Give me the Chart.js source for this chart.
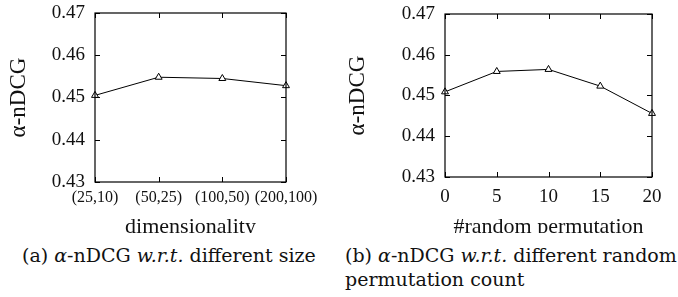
<!DOCTYPE html>
<html>
<head>
<meta charset="utf-8">
<script src="https://cdn.jsdelivr.net/npm/chart.js@4/dist/chart.umd.min.js"></script>
<style>
  html, body { margin: 0; padding: 0; background: #fff; }
  body { width: 678px; height: 297px; position: relative; overflow: hidden; }
  .panel { position: absolute; top: 0; height: 240px; }
  .cap {
    position: absolute; top: 233px; padding-top: 10px; background: #fff;
    font-family: "DejaVu Serif", serif; font-size: 19px;
    color: #111; white-space: nowrap; line-height: 24px;
  }
  .cap i { font-style: italic; }
</style>
</head>
<body>
<div class="panel" style="left:0;width:340px"><canvas id="chartDim"></canvas></div>
<div class="panel" style="left:340px;width:338px"><canvas id="chartPerm"></canvas></div>
<div class="cap" style="left:22px;width:318px">(a) <i>α</i>-nDCG <i>w.r.t.</i> different size</div>
<div class="cap" style="left:345px;width:333px">(b) <i>α</i>-nDCG <i>w.r.t.</i> different random<br>permutation count</div>

<script>
// ---------------------------------------------------------------------------
//  Data
// ---------------------------------------------------------------------------

const dimLabels  = ['(25,10)', '(50,25)', '(100,50)', '(200,100)'];
const dimValues  = [0.4505, 0.4548, 0.4545, 0.4528];

const permCounts = [0, 5, 10, 15, 20];
const permValues = [0.4509, 0.4559, 0.4564, 0.4523, 0.4456];

const yTicks = [0.43, 0.44, 0.45, 0.46, 0.47];

const SERIF = '"Liberation Serif", "Times New Roman", serif';

// frame + inward mirrored tick marks, gnuplot style
const framePlugin = {
  id: 'frame',
  afterDraw(chart) {
    const { ctx, chartArea: a, scales } = chart;
    ctx.save();
    ctx.strokeStyle = '#000';
    ctx.lineWidth = 1.2;
    ctx.strokeRect(a.left, a.top, a.right - a.left, a.bottom - a.top);
    ctx.lineWidth = 1;
    const len = 5;
    scales.y.ticks.forEach((t, i) => {
      const y = Math.round(scales.y.getPixelForTick(i)) + 0.5;
      ctx.beginPath();
      ctx.moveTo(a.left, y);  ctx.lineTo(a.left + len, y);
      ctx.moveTo(a.right, y); ctx.lineTo(a.right - len, y);
      ctx.stroke();
    });
    scales.x.ticks.forEach((t, i) => {
      const x = Math.round(scales.x.getPixelForTick(i)) + 0.5;
      ctx.beginPath();
      ctx.moveTo(x, a.bottom); ctx.lineTo(x, a.bottom - len);
      ctx.moveTo(x, a.top);    ctx.lineTo(x, a.top + len);
      ctx.stroke();
    });
    ctx.restore();
  },
};

function lineDataset(values) {
  return {
    data: values,
    borderColor: '#000', borderWidth: 1,
    pointStyle: 'triangle', pointRadius: 4, pointHoverRadius: 4,
    pointBackgroundColor: '#fff', pointBorderColor: '#000', pointBorderWidth: 1,
    tension: 0, clip: false,
  };
}

function yScale(axisWidth, titleOffset) {
  return {
    min: 0.43, max: 0.47,
    afterBuildTicks: s => { s.ticks = yTicks.map(v => ({ value: v })); },
    afterFit: s => { s.width = axisWidth; s.paddingTop = 0; s.paddingBottom = 0; },
    grid: { display: false, drawTicks: false },
    border: { display: false },
    ticks: { color: '#111', font: { family: SERIF, size: 19 }, padding: 10,
             callback: v => v.toFixed(2) },
    title: { display: true, text: 'α-nDCG', color: '#111',
             font: { family: SERIF, size: 23 }, padding: { top: titleOffset, bottom: 0 } },
  };
}

function baseOptions(pad, xScale, axisWidth, titleOffset) {
  return {
    responsive: true, maintainAspectRatio: false, animation: false,
    layout: { padding: pad },
    plugins: { legend: { display: false }, tooltip: { enabled: false } },
    scales: { x: xScale, y: yScale(axisWidth, titleOffset) },
  };
}

// ---------------------------------------------------------------------------
//  (a) dimensionality
// ---------------------------------------------------------------------------

new Chart(document.getElementById('chartDim'), {
  type: 'line',
  data: { labels: dimLabels, datasets: [lineDataset(dimValues)] },
  options: baseOptions({ top: 13, right: 54, left: 0, bottom: 0 }, {
    type: 'category', offset: false,
    afterFit: s => { s.height = 58; s.paddingLeft = 0; s.paddingRight = 0; },
    grid: { display: false, drawTicks: false },
    border: { display: false },
    ticks: { color: '#111', font: { family: SERIF, size: 16 }, padding: 6,
             maxRotation: 0, autoSkip: false },
    title: { display: true, text: 'dimensionality', color: '#111',
             font: { family: SERIF, size: 22 }, padding: { top: 0, bottom: 0 } },
  }, 95, 5),
  plugins: [framePlugin],
});

// ---------------------------------------------------------------------------
//  (b) #random permutation
// ---------------------------------------------------------------------------

new Chart(document.getElementById('chartPerm'), {
  type: 'line',
  data: { datasets: [lineDataset(permCounts.map((c, i) => ({ x: c, y: permValues[i] })))] },
  options: baseOptions({ top: 14, right: 26, left: 0, bottom: 0 }, {
    type: 'linear', min: 0, max: 20,
    afterBuildTicks: s => { s.ticks = permCounts.map(v => ({ value: v })); },
    afterFit: s => { s.height = 63; s.paddingLeft = 0; s.paddingRight = 0; },
    grid: { display: false, drawTicks: false },
    border: { display: false },
    ticks: { color: '#111', font: { family: SERIF, size: 19 }, padding: 9 },
    title: { display: true, text: '#random permutation', color: '#111',
             font: { family: SERIF, size: 22 }, padding: { top: 0, bottom: 0 } },
  }, 105, 4),
  plugins: [framePlugin],
});
</script>
</body>
</html>
